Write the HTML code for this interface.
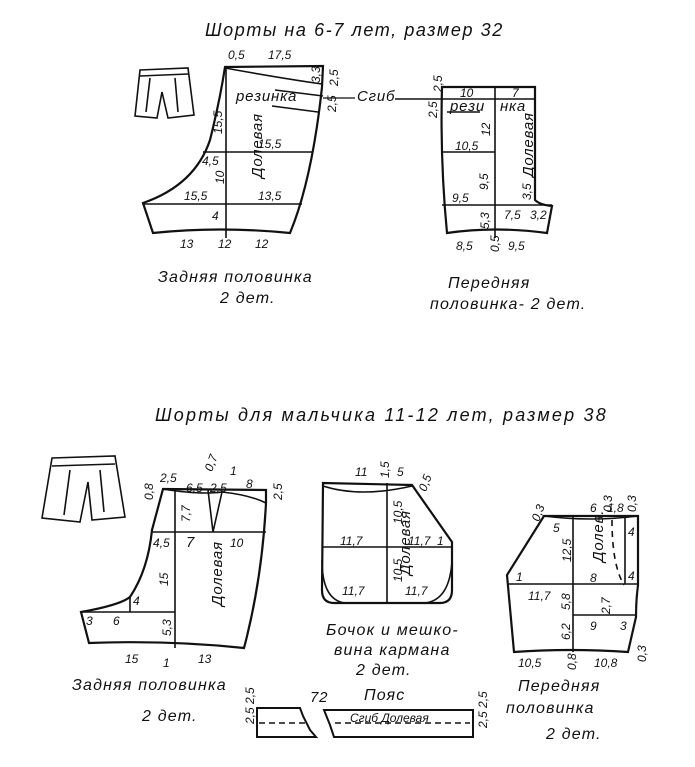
<!DOCTYPE html>
<html><head><meta charset="utf-8"><style>
html,body{margin:0;padding:0;background:#fff;}
svg text{font-family:"Liberation Sans","DejaVu Sans",sans-serif;font-style:italic;fill:#111;}
.s{font-size:12px}.m{font-size:15px;letter-spacing:0.8px}.c{font-size:16px;letter-spacing:1.2px}.l{font-size:18px;letter-spacing:1.6px}
</style></head><body>
<svg width="695" height="762" viewBox="0 0 695 762" xmlns="http://www.w3.org/2000/svg" fill="none" stroke="#111" stroke-width="1.6">
<!-- titles -->
<text x="205" y="36" class="l" stroke="none">Шорты на   6-7 лет, размер 32</text>
<text x="155" y="421" class="l" stroke="none" style="letter-spacing:2.2px">Шорты для мальчика 11-12 лет, размер 38</text>

<!-- top sketch -->
<path d="M140 70 L188 68 L194 115 L168 118 L162 92 L157 118 L135 116 Z"/>
<path d="M140 76 L188 74 M150 78 L146 112 M175 78 L178 112"/>

<!-- top back piece -->
<path d="M225 67 L323 66 L322 87 Q312 180 290 233 Q220 226 153 233 L143 203 Q195 185 210 140 Q220 100 225 67 Z" stroke-width="2.2"/>
<path d="M225 68 Q280 78 322 84"/>
<path d="M226 67 V238 M203 152 H312 M143 204 H302"/>
<path d="M275 90 L323 96 M272 106 L318 112"/>
<path d="M323 98 H355" stroke-width="1.2"/>
<text x="228" y="59" class="s" stroke="none">0,5</text>
<text x="268" y="59" class="s" stroke="none">17,5</text>
<text x="309" y="80" class="s" stroke="none" transform="rotate(-90 316 76)">3,3</text>
<text x="332" y="88" class="s" stroke="none" transform="rotate(-90 334 84)">2,5</text>
<text x="328" y="112" class="s" stroke="none" transform="rotate(-90 332 108)">2,5</text>
<text x="236" y="101" class="m" stroke="none" letter-spacing="2">резинка</text>
<text x="357" y="101" class="m" stroke="none">Сгиб</text>
<text x="210" y="130" class="s" stroke="none" transform="rotate(-90 218 126)">15,5</text>
<text x="258" y="148" class="s" stroke="none">15,5</text>
<text x="202" y="165" class="s" stroke="none">4,5</text>
<text x="214" y="182" class="s" stroke="none" transform="rotate(-90 220 178)">10</text>
<text x="228" y="196" class="m" stroke="none" transform="rotate(-90 236 170)">Долевая</text>
<text x="184" y="200" class="s" stroke="none">15,5</text>
<text x="258" y="200" class="s" stroke="none">13,5</text>
<text x="212" y="220" class="s" stroke="none">4</text>
<text x="180" y="248" class="s" stroke="none">13</text>
<text x="218" y="248" class="s" stroke="none">12</text>
<text x="255" y="248" class="s" stroke="none">12</text>
<text x="158" y="282" class="c" stroke="none">Задняя половинка</text>
<text x="220" y="303" class="c" stroke="none">2 дет.</text>

<!-- top front piece -->
<path d="M442 87 L535 87 L535 200 Q540 205 552 206 L547 233 Q495 226 447 233 Q440 160 442 87 Z" stroke-width="2.2"/>
<path d="M495 87 V238 M442 152 H495 M442 205 H552 M395 99 H535 M447 112 H480"/>
<text x="430" y="92" class="s" stroke="none" transform="rotate(-90 436 86)">2,5</text>
<text x="425" y="118" class="s" stroke="none" transform="rotate(-90 431 112)">2,5</text>
<text x="460" y="97" class="s" stroke="none">10</text>
<text x="512" y="97" class="s" stroke="none">7</text>
<text x="450" y="111" class="m" stroke="none" letter-spacing="2">рези</text>
<text x="500" y="111" class="m" stroke="none" letter-spacing="2">нка</text>
<text x="480" y="134" class="s" stroke="none" transform="rotate(-90 486 130)">12</text>
<text x="497" y="195" class="m" stroke="none" transform="rotate(-90 506 168)">Долевая</text>
<text x="455" y="150" class="s" stroke="none">10,5</text>
<text x="478" y="188" class="s" stroke="none" transform="rotate(-90 484 184)">9,5</text>
<text x="452" y="202" class="s" stroke="none">9,5</text>
<text x="521" y="198" class="s" stroke="none" transform="rotate(-90 527 194)">3,5</text>
<text x="478" y="226" class="s" stroke="none" transform="rotate(-90 485 222)">5,3</text>
<text x="504" y="219" class="s" stroke="none">7,5</text>
<text x="530" y="219" class="s" stroke="none">3,2</text>
<text x="456" y="250" class="s" stroke="none">8,5</text>
<text x="487" y="252" class="s" stroke="none" transform="rotate(-90 493 246)">0,5</text>
<text x="508" y="250" class="s" stroke="none">9,5</text>
<text x="448" y="288" class="c" stroke="none">Передняя</text>
<text x="430" y="309" class="c" stroke="none">половинка- 2 дет.</text>

<!-- bottom sketch -->
<path d="M52 458 L115 456 L125 517 L92 520 L88 482 L80 522 L42 518 Z"/>
<path d="M52 466 L115 464 M70 470 L64 515 M100 470 L104 512"/>

<!-- bottom back piece -->
<path d="M163 489 L266 490 L266 503 Q262 580 244 648 Q170 640 89 643 L81 612 Q120 605 130 597 Q148 570 152 530 Z" stroke-width="2.2"/>
<path d="M163 489 Q200 495 222 492 Q250 495 266 503"/>
<path d="M152 532 H266 M175 489 V648 M81 612 H175 M130 597 V612 M208 490 L213 532 L222 492"/>
<text x="143" y="498" class="s" stroke="none" transform="rotate(-90 149 494)">0,8</text>
<text x="160" y="482" class="s" stroke="none">2,5</text>
<text x="186" y="492" class="s" stroke="none">6,5</text>
<text x="205" y="470" class="s" stroke="none" transform="rotate(-70 210 466)">0,7</text>
<text x="210" y="492" class="s" stroke="none">2,5</text>
<text x="230" y="475" class="s" stroke="none">1</text>
<text x="246" y="488" class="s" stroke="none">8</text>
<text x="270" y="500" class="s" stroke="none" transform="rotate(-90 276 494)">2,5</text>
<text x="180" y="520" class="s" stroke="none" transform="rotate(-90 186 516)">7,7</text>
<text x="153" y="547" class="s" stroke="none">4,5</text>
<text x="186" y="547" class="m" stroke="none">7</text>
<text x="230" y="547" class="s" stroke="none">10</text>
<text x="158" y="584" class="s" stroke="none" transform="rotate(-90 164 580)">15</text>
<text x="180" y="628" class="m" stroke="none" transform="rotate(-90 190 596)">Долевая</text>
<text x="133" y="605" class="s" stroke="none">4</text>
<text x="86" y="625" class="s" stroke="none">3</text>
<text x="113" y="625" class="s" stroke="none">6</text>
<text x="160" y="635" class="s" stroke="none" transform="rotate(-90 166 630)">5,3</text>
<text x="125" y="663" class="s" stroke="none">15</text>
<text x="163" y="667" class="s" stroke="none">1</text>
<text x="198" y="663" class="s" stroke="none">13</text>
<text x="72" y="690" class="c" stroke="none">Задняя половинка</text>
<text x="142" y="721" class="c" stroke="none">2 дет.</text>

<!-- pocket -->
<path d="M323 483 L412 485 L452 542 L452 590 Q452 603 440 603 L334 603 Q322 603 322 590 Z" stroke-width="2.2"/>
<path d="M323 486 Q360 498 412 486 M387 483 V603 M322 547 H452 M322 560 Q322 600 345 603 M452 560 Q450 600 425 603"/>
<text x="355" y="476" class="s" stroke="none">11</text>
<text x="378" y="477" class="s" stroke="none" transform="rotate(-90 384 472)">1,5</text>
<text x="397" y="476" class="s" stroke="none">5</text>
<text x="419" y="490" class="s" stroke="none" transform="rotate(-70 424 486)">0,5</text>
<text x="392" y="522" class="s" stroke="none" transform="rotate(-90 398 518)">10,5</text>
<text x="340" y="545" class="s" stroke="none">11,7</text>
<text x="408" y="545" class="s" stroke="none">11,7</text>
<text x="437" y="545" class="s" stroke="none">1</text>
<text x="372" y="595" class="m" stroke="none" transform="rotate(-90 381 566)">Долевая</text>
<text x="392" y="580" class="s" stroke="none" transform="rotate(-90 398 576)">10,5</text>
<text x="342" y="595" class="s" stroke="none">11,7</text>
<text x="405" y="595" class="s" stroke="none">11,7</text>
<text x="326" y="635" class="c" stroke="none">Бочок и мешко-</text>
<text x="334" y="655" class="c" stroke="none">вина кармана</text>
<text x="356" y="675" class="c" stroke="none">2 дет.</text>

<!-- bottom front piece -->
<path d="M544 516 L638 516 L638 585 Q636 600 636 617 L628 652 Q570 648 514 652 L507 575 Z" stroke-width="2.2"/>
<path d="M544 516 Q590 522 638 516 M573 516 V652 M507 584 H638 M573 615 H636 M625 516 V584"/>
<path d="M612 520 Q612 565 624 585" stroke-dasharray="6 5"/>
<text x="532" y="520" class="s" stroke="none" transform="rotate(-70 537 516)">0,3</text>
<text x="590" y="512" class="s" stroke="none">6</text>
<text x="600" y="512" class="s" stroke="none" transform="rotate(-90 606 506)">0,3</text>
<text x="607" y="512" class="s" stroke="none">1,8</text>
<text x="624" y="512" class="s" stroke="none" transform="rotate(-90 630 506)">0,3</text>
<text x="553" y="532" class="s" stroke="none">5</text>
<text x="561" y="560" class="s" stroke="none" transform="rotate(-90 567 556)">12,5</text>
<text x="575" y="570" class="m" stroke="none" transform="rotate(-90 585 552)">Долев.</text>
<text x="628" y="536" class="s" stroke="none">4</text>
<text x="590" y="582" class="s" stroke="none">8</text>
<text x="628" y="580" class="s" stroke="none">4</text>
<text x="516" y="581" class="s" stroke="none">1</text>
<text x="528" y="600" class="s" stroke="none">11,7</text>
<text x="560" y="608" class="s" stroke="none" transform="rotate(-90 566 604)">5,8</text>
<text x="600" y="612" class="s" stroke="none" transform="rotate(-90 606 608)">2,7</text>
<text x="590" y="630" class="s" stroke="none">9</text>
<text x="620" y="630" class="s" stroke="none">3</text>
<text x="560" y="638" class="s" stroke="none" transform="rotate(-90 566 634)">6,2</text>
<text x="636" y="660" class="s" stroke="none" transform="rotate(-90 642 656)">0,3</text>
<text x="518" y="667" class="s" stroke="none">10,5</text>
<text x="564" y="670" class="s" stroke="none" transform="rotate(-90 570 664)">0,8</text>
<text x="594" y="667" class="s" stroke="none">10,8</text>
<text x="518" y="691" class="c" stroke="none">Передняя</text>
<text x="506" y="713" class="c" stroke="none">половинка</text>
<text x="546" y="739" class="c" stroke="none">2 дет.</text>

<!-- belt -->
<path d="M257 708 L300 708 L303 716 L310 730 L316 737 L257 737 Z" stroke-width="2"/>
<path d="M324 710 L473 710 L473 737 L334 737 L330 725 Z" stroke-width="2"/>
<path d="M259 723 H305 M335 723 H470" stroke-dasharray="6 4"/>
<text x="310" y="702" class="m" stroke="none">72</text>
<text x="364" y="700" class="c" stroke="none">Пояс</text>
<text x="350" y="722" class="s" stroke="none">Сгиб  Долевая</text>
<text x="244" y="722" class="s" stroke="none" transform="rotate(-90 250 718)">2,5 2,5</text>
<text x="478" y="725" class="s" stroke="none" transform="rotate(-90 484 722)">2,5 2,5</text>
</svg>
</body></html>
